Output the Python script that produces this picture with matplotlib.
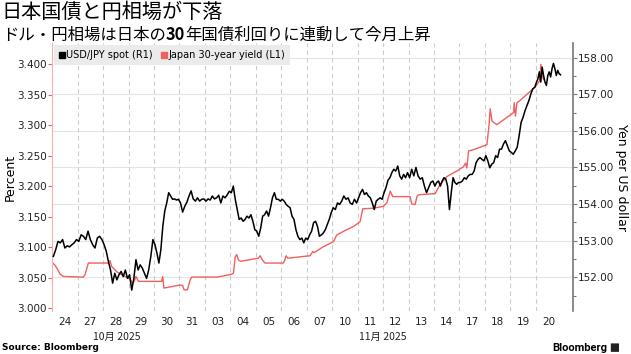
import matplotlib
matplotlib.use("Agg")
import matplotlib.pyplot as plt
import matplotlib.transforms as mtransforms
from matplotlib.lines import Line2D
from matplotlib.patches import FancyBboxPatch

# trading days shown on the x axis
day_labels = ["24", "27", "28", "29", "30", "31", "03", "04", "05", "06",
              "07", "10", "11", "12", "13", "14", "17", "18", "19", "20"]
month_labels = ["10月 2025", "11月 2025"]
month_pos = [2.55, 13.0]

# USD/JPY spot, intraday readings per trading day (right axis)
usdjpy = [
    [152.57, 152.75, 152.98, 152.94, 153.03, 152.80, 152.86, 152.83, 152.89, 152.94, 153.03],
    [152.98, 153.16, 153.12, 153.03, 153.26, 153.03, 152.89, 152.80, 153.07, 153.12, 153.03],
    [152.89, 152.71, 152.43, 152.20, 151.84, 152.11, 151.93, 152.07, 152.16, 152.02, 152.20, 151.97],
    [152.07, 151.65, 151.97, 152.48, 152.20, 152.34, 152.25, 152.11, 151.97, 152.20, 152.57, 153.03],
    [152.89, 152.66, 152.39, 152.75, 153.39, 153.81, 154.03, 154.31, 154.22, 154.13, 154.14, 154.11, 154.13],
    [154.03, 153.78, 153.94, 154.05, 154.22, 154.36, 154.14, 154.08, 154.17, 154.08, 154.13, 154.14],
    [154.08, 154.14, 154.11, 154.22, 154.14, 154.17, 154.24, 154.03, 154.22, 154.17, 154.25, 154.35],
    [154.31, 154.49, 154.13, 153.85, 153.58, 153.62, 153.53, 153.58, 153.67, 153.62, 153.71, 153.53, 153.30],
    [153.26, 153.12, 153.35, 153.67, 153.71, 153.81, 153.67, 153.90, 154.17, 154.31, 154.13, 154.13, 154.08],
    [154.13, 154.08, 153.99, 153.94, 153.90, 153.67, 153.58, 153.30, 153.12, 153.03, 153.07, 152.94, 153.07],
    [153.03, 153.16, 153.26, 153.49, 153.53, 153.39, 153.12, 153.16, 153.21, 153.30, 153.44, 153.58, 153.76],
    [153.90, 153.85, 154.03, 153.99, 154.08, 154.22, 154.13, 154.17, 154.03, 153.99, 154.13, 154.03],
    [154.17, 154.31, 154.40, 154.26, 154.31, 154.22, 154.17, 154.03, 153.85, 154.08, 154.13, 154.17, 154.13],
    [154.31, 154.45, 154.65, 154.72, 154.86, 154.95, 154.90, 155.04, 154.77, 154.68, 154.81, 154.72, 154.86],
    [154.72, 154.95, 154.77, 155.00, 154.77, 154.68, 154.72, 154.49, 154.31, 154.45, 154.59, 154.63],
    [154.49, 154.59, 154.63, 154.49, 154.63, 154.72, 154.68, 154.49, 153.85, 154.31, 154.72, 154.59, 154.54, 154.59],
    [154.59, 154.63, 154.72, 154.68, 154.77, 154.81, 154.81, 154.90, 155.13, 155.22, 155.27, 155.22, 155.18],
    [155.32, 155.18, 154.99, 155.09, 155.13, 155.32, 155.27, 155.50, 155.50, 155.64, 155.73, 155.59, 155.45],
    [155.41, 155.36, 155.45, 155.55, 155.87, 156.23, 156.37, 156.55, 156.69, 156.83, 157.01, 157.15, 157.19],
    [157.33, 157.42, 157.61, 157.33, 157.74, 157.51, 157.33, 157.24, 157.51, 157.61, 157.47, 157.70,
     157.84, 157.70, 157.51, 157.65, 157.56, 157.53],
]

# Japan 30-year yield (left axis); time in trading days from the start
jgb30_t = [0.0, 0.12, 0.22, 0.31, 0.44, 1.22, 1.29, 1.42, 2.21, 2.27, 2.34, 2.40, 2.53, 2.73,
           3.06, 3.16, 3.22, 3.29, 3.39, 4.30, 4.34, 4.39, 5.02, 5.13, 5.18, 5.31, 5.42, 5.48,
           6.47, 6.99, 7.12, 7.19, 7.25, 7.32, 7.41, 8.10, 8.17, 8.26, 8.36, 9.08, 9.14, 9.19,
           9.26, 10.13, 10.24, 10.29, 10.66, 11.05, 11.18, 11.44, 11.84, 12.10, 12.20, 12.62,
           13.01, 13.15, 13.28, 13.38, 14.06, 14.13, 14.26, 14.33, 14.39, 15.05, 15.24, 15.51,
           15.90, 16.16, 16.24, 16.29, 16.36, 16.55, 17.08, 17.16, 17.21, 17.28, 17.37, 17.47,
           18.13, 18.15, 18.20, 18.26, 18.39, 18.98, 19.15, 19.20, 19.25, 19.31]
jgb30 = [3.075, 3.070, 3.063, 3.056, 3.052, 3.051, 3.055, 3.074, 3.074, 3.078, 3.068, 3.066,
         3.060, 3.055, 3.048, 3.041, 3.044, 3.052, 3.044, 3.044, 3.052, 3.033, 3.038, 3.037,
         3.030, 3.030, 3.046, 3.051, 3.051, 3.055, 3.057, 3.084, 3.088, 3.079, 3.077, 3.082,
         3.086, 3.079, 3.074, 3.074, 3.079, 3.086, 3.082, 3.086, 3.093, 3.091, 3.101, 3.109,
         3.120, 3.126, 3.134, 3.142, 3.163, 3.164, 3.167, 3.173, 3.192, 3.183, 3.183, 3.171,
         3.170, 3.183, 3.186, 3.188, 3.203, 3.216, 3.225, 3.232, 3.238, 3.230, 3.258, 3.260,
         3.268, 3.299, 3.327, 3.307, 3.304, 3.301, 3.321, 3.337, 3.315, 3.337, 3.341, 3.363,
         3.373, 3.400, 3.381, 3.375]

red = "#f0605f"
plt.rcParams["font.family"] = ["DejaVu Sans"]

fig = plt.figure(figsize=(6.31, 3.54), dpi=100)
ax = fig.add_axes([0.0827, 0.1215, 0.8249, 0.7562])
ax2 = ax.twinx()

# red yield on the left axis
ax.plot(jgb30_t, jgb30, color=red, lw=1.0, zorder=3)
ax.set_xlim(0, 20.45)
ax.set_ylim(2.9954, 3.4345)
ax.set_yticks([3.0 + 0.05 * k for k in range(9)])
ax.yaxis.set_major_formatter(matplotlib.ticker.FormatStrFormatter("%.3f"))
ax.tick_params(axis="y", colors=red, labelcolor="#222222", length=3, width=0.8, labelsize=7.5, pad=1)
ax.set_ylabel("Percent", fontsize=9, labelpad=0)

# black spot rate on the right axis
bx, by = [], []
for i, vals in enumerate(usdjpy):
    n = len(vals)
    for j, v in enumerate(vals):
        bx.append(i + (j + 0.5) / n)
        by.append(v)
ax2.plot(bx, by, color="black", lw=1.1, zorder=3)
ax2.set_ylim(151.08, 158.39)
ax2.set_yticks(range(152, 159))
ax2.set_yticks([151.5 + k for k in range(7)], minor=True)
ax2.yaxis.set_major_formatter(matplotlib.ticker.FormatStrFormatter("%.2f"))
ax2.tick_params(axis="y", which="both", colors="#777777", labelcolor="#222222", width=0.8, labelsize=7.5, pad=1)
ax2.tick_params(axis="y", which="major", length=3)
ax2.tick_params(axis="y", which="minor", length=2)
ax2.set_ylabel("Yen per US dollar", fontsize=9, rotation=270, labelpad=10)

# grid: horizontal lines follow the right axis, dashed lines split the days
trans = mtransforms.blended_transform_factory(ax.transAxes, ax2.transData)
for v in range(152, 159):
    ax.plot([0, 1], [v, v], transform=trans, color="#e4e4e4", lw=0.8, zorder=1)
for i in range(1, len(day_labels)):
    ax.axvline(i, color="#cccccc", lw=0.8, ls=(0, (4, 3)), zorder=1)

ax.set_xticks([i + 0.5 for i in range(len(day_labels))])
ax.set_xticklabels(day_labels, fontsize=7.5)
ax.tick_params(axis="x", length=0, pad=4, labelcolor="#222222")
xtr = mtransforms.blended_transform_factory(ax.transData, ax.transAxes)
for pos, lab in zip(month_pos, month_labels):
    ax.text(pos, -0.08, lab, transform=xtr, ha="center", va="top", fontsize=7.5,
            color="#222222", family=["Noto Sans CJK JP", "DejaVu Sans"])

for a in (ax, ax2):
    for s in a.spines.values():
        s.set_visible(False)
ax2.spines["left"].set_visible(True)
ax2.spines["left"].set_color("#f6b0b0")
ax2.spines["left"].set_linewidth(0.8)
ax2.spines["right"].set_visible(True)
ax2.spines["right"].set_color("#777777")
ax2.spines["right"].set_linewidth(1.2)

handles = [Line2D([], [], ls="none", marker="s", color="black", markersize=4.5),
           Line2D([], [], ls="none", marker="s", color=red, markersize=4.5)]
leg = ax2.legend(handles, ["USD/JPY spot (R1)", "Japan 30-year yield (L1)"], loc="upper left",
                 bbox_to_anchor=(0.0, 1.0), ncol=2, fontsize=7, frameon=True, fancybox=False,
                 facecolor="#ebebeb", edgecolor="none", framealpha=1, handlelength=0.6,
                 handletextpad=0.15, columnspacing=0.8, borderaxespad=0.15, borderpad=0.55)

# titles
cjk = ["Noto Sans CJK JP", "DejaVu Sans"]
fig.text(0.003, 0.965, "日本国債と円相場が下落", fontsize=14.5, family=cjk, va="center", ha="left")
t1 = fig.text(0.003, 0.877, "ドル・円相場は日本の", fontsize=11.8, family=cjk, va="bottom", ha="left")
t2 = ax.annotate("30", xy=(1, 0), xycoords=t1, fontsize=11.8, family=cjk, weight="bold",
                 va="bottom", ha="left", annotation_clip=False)
ax.annotate("年国債利回りに連動して今月上昇", xy=(1, 0), xycoords=t2, fontsize=11.8, family=cjk,
            va="bottom", ha="left", annotation_clip=False)

fig.text(0.003, 0.018, "Source: Bloomberg", fontsize=6.5, weight="bold", va="center", ha="left")
fig.text(0.963, 0.018, "Bloomberg", fontsize=8, family=["Roboto", "DejaVu Sans"], weight="bold",
         va="center", ha="right")
fig.patches.append(FancyBboxPatch((0.969, 0.007), 0.011, 0.022, boxstyle="round,pad=0.001",
                                  transform=fig.transFigure, facecolor="#222222", edgecolor="none"))

fig.savefig("out.png", dpi=100)
